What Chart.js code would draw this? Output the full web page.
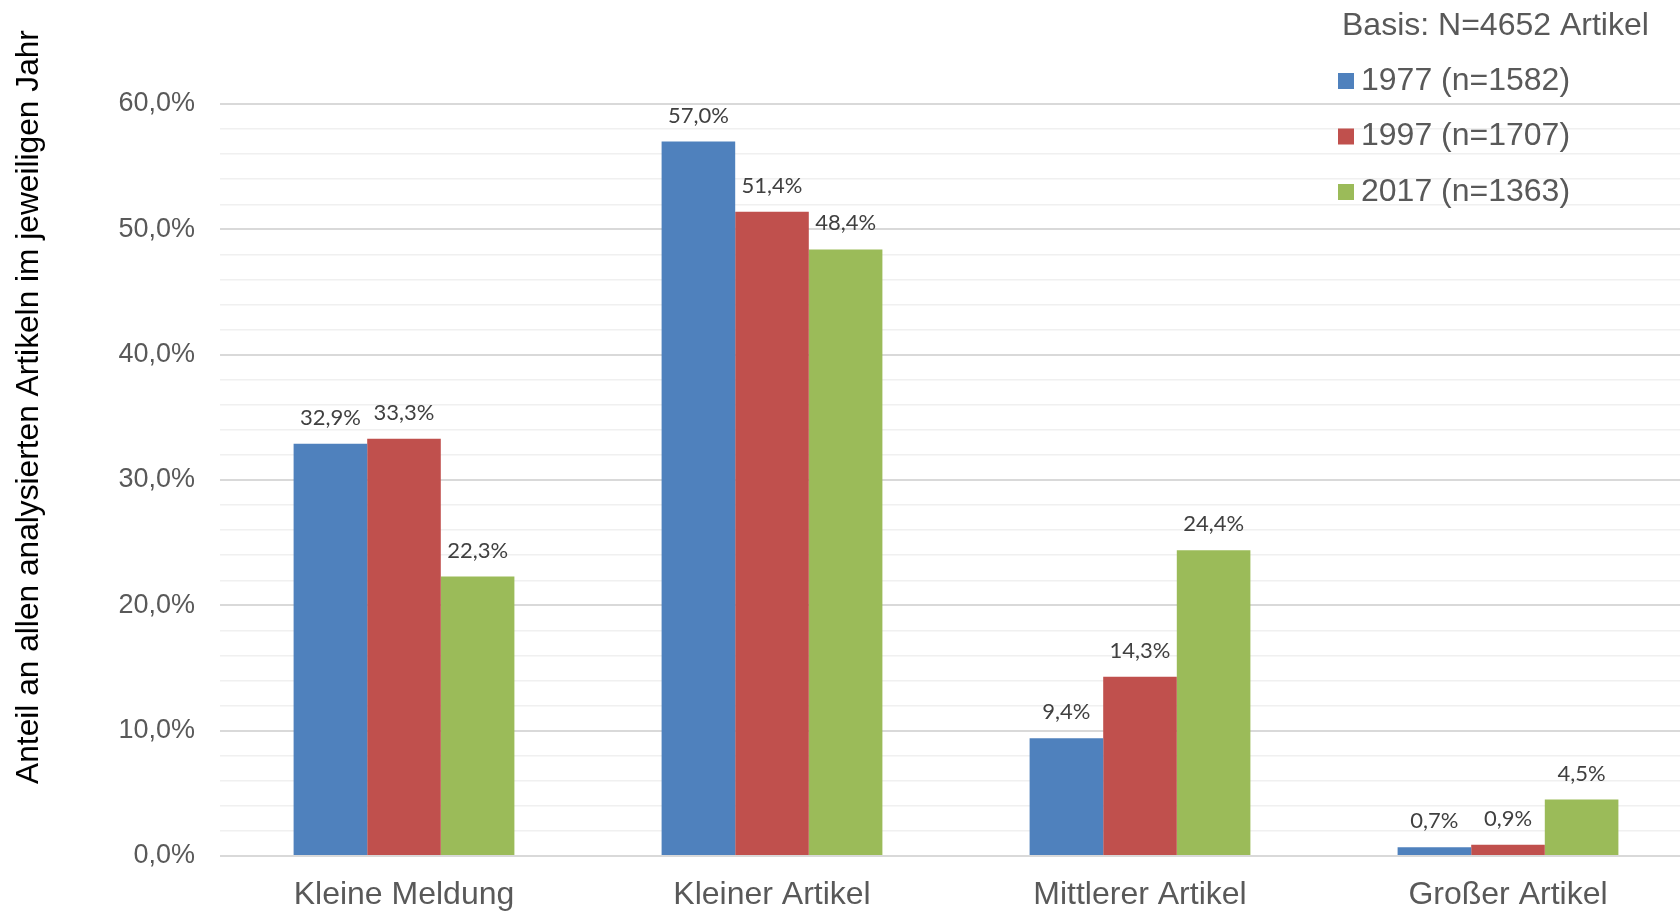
<!DOCTYPE html>
<html>
<head>
<meta charset="utf-8">
<script src="https://cdn.jsdelivr.net/npm/chart.js@4.4.1/dist/chart.umd.min.js"></script>
<style>
  html, body { margin: 0; padding: 0; background: #fff; overflow: hidden; }
  #wrap { position: relative; width: 1692px; height: 912px; }
</style>
</head>
<body>
<div id="wrap"><canvas id="chart"></canvas></div>
<script>
// categories (x axis)
const categories = ["Kleine Meldung", "Kleiner Artikel", "Mittlerer Artikel", "Großer Artikel"];

// series, share in percent
const labels1977 = "1977 (n=1582)";
const values1977 = [32.9, 57.0, 9.4, 0.7];
const labels1997 = "1997 (n=1707)";
const values1997 = [33.3, 51.4, 14.3, 0.9];
const labels2017 = "2017 (n=1363)";
const values2017 = [22.3, 48.4, 24.4, 4.5];

const basisText = "Basis: N=4652 Artikel";
const yTitle = "Anteil an allen analysierten Artikeln im jeweiligen Jahr";

const fmt = (v) => v.toFixed(1).replace(".", ",") + "%";

// value labels above the bars
const barLabels = {
  id: "barLabels",
  afterDatasetsDraw(chart) {
    const ctx = chart.ctx;
    ctx.save();
    ctx.font = "22px Lato, 'Open Sans', sans-serif";
    ctx.fillStyle = "#404040";
    ctx.textAlign = "center";
    ctx.textBaseline = "middle";
    chart.data.datasets.forEach((ds, i) => {
      chart.getDatasetMeta(i).data.forEach((bar, j) => {
        ctx.fillText(fmt(ds.data[j]), bar.x, bar.y - 26);
      });
    });
    ctx.restore();
  }
};

// legend + axis title drawn by hand (they sit inside the plot in the original)
const extras = {
  id: "extras",
  afterDraw(chart) {
    const ctx = chart.ctx;
    ctx.save();
    ctx.font = "32px 'Liberation Sans', Arial, sans-serif";
    ctx.fillStyle = "#595959";
    ctx.textAlign = "left";
    ctx.textBaseline = "middle";
    ctx.fillText(basisText, 1342, 26);
    chart.data.datasets.forEach((ds, i) => {
      const y = 81 + i * 55.5;
      ctx.fillStyle = ds.backgroundColor;
      ctx.fillRect(1338, y - 8, 16, 16);
      ctx.fillStyle = "#595959";
      ctx.fillText(ds.label, 1361, y);
    });

    ctx.translate(29, 407);
    ctx.rotate(-Math.PI / 2);
    ctx.font = "31.7px 'Liberation Sans', Arial, sans-serif";
    ctx.fillStyle = "#000";
    ctx.textAlign = "center";
    ctx.fillText(yTitle, 0, 0);
    ctx.restore();
  }
};

new Chart(document.getElementById("chart"), {
  type: "bar",
  data: {
    labels: categories,
    datasets: [
      { label: labels1977, data: values1977, backgroundColor: "#4F81BD" },
      { label: labels1997, data: values1997, backgroundColor: "#C0504D" },
      { label: labels2017, data: values2017, backgroundColor: "#9BBB59" },
    ],
  },
  options: {
    responsive: true,
    maintainAspectRatio: false,
    animation: false,
    layout: { padding: { top: 104, left: 0, right: 0, bottom: 0 } },
    datasets: { bar: { categoryPercentage: 0.6, barPercentage: 1.0 } },
    plugins: { legend: { display: false }, tooltip: { enabled: false } },
    scales: {
      x: {
        grid: { display: false, drawTicks: false },
        border: { display: false },
        ticks: {
          color: "#595959",
          font: { family: "'Liberation Sans', Arial, sans-serif", size: 32 },
          padding: 20,
        },
        afterFit(scale) { scale.height = 56; },
      },
      y: {
        min: 0,
        max: 60,
        border: { display: false },
        grid: {
          drawTicks: false,
          color: (c) => (c.tick && c.tick.value % 10 === 0 ? "#D9D9D9" : "#F0F0F0"),
          lineWidth: (c) => (c.tick && c.tick.value % 10 === 0 ? 2 : 1.5),
        },
        ticks: {
          stepSize: 2,
          autoSkip: false,
          color: "#595959",
          padding: 25,
          font: { family: "'Liberation Sans', Arial, sans-serif", size: 27 },
          callback: (v) => (v % 10 === 0 ? fmt(v) : ""),
        },
        afterFit(scale) { scale.width = 220; },
      },
    },
  },
  plugins: [barLabels, extras],
});
</script>
</body>
</html>
